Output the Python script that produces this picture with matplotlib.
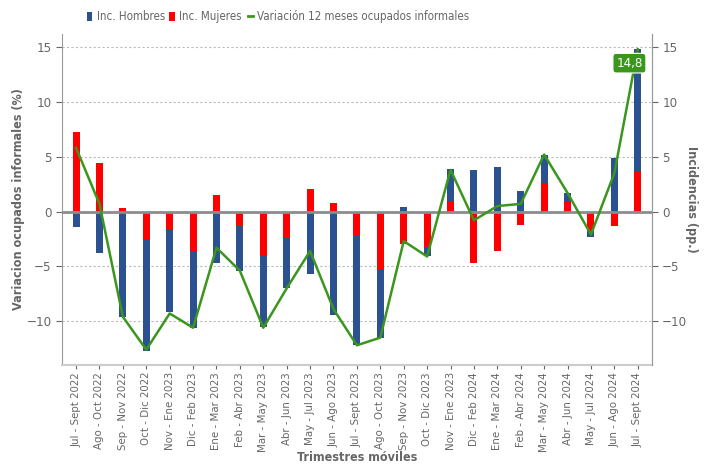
import matplotlib.pyplot as plt
import numpy as np

plt.rcParams["font.family"] = "DejaVu Sans"
plt.rcParams["font.stretch"] = "condensed"

periodos = [
    "Jul - Sept 2022", "Ago - Oct 2022", "Sep - Nov 2022", "Oct - Dic 2022",
    "Nov - Ene 2023", "Dic - Feb 2023", "Ene - Mar 2023", "Feb - Abr 2023",
    "Mar - May 2023", "Abr - Jun 2023", "May - Jul 2023", "Jun - Ago 2023",
    "Jul - Sept 2023", "Ago - Oct 2023", "Sep - Nov 2023", "Oct - Dic 2023",
    "Nov - Ene 2023", "Dic - Feb 2024", "Ene - Mar 2024", "Feb - Abr 2024",
    "Mar - May 2024", "Abr - Jun 2024", "May - Jul 2024", "Jun - Ago 2024",
    "Jul - Sept 2024",
]

inc_hombres = [-1.4, -3.8, -9.6, -10.1, -7.5, -7.0, -4.7, -4.1, -6.4, -4.6,
               -5.7, -9.4, -10.1, -6.2, 0.4, -0.9, 2.9, 3.8, 4.1, 1.9,
               2.6, 0.8, -0.5, 4.9, 11.1]
inc_mujeres = [7.3, 4.4, 0.3, -2.6, -1.7, -3.6, 1.5, -1.3, -4.1, -2.4,
               2.1, 0.8, -2.1, -5.3, -3.0, -3.2, 1.0, -4.7, -3.6, -1.2,
               2.6, 0.9, -1.8, -1.3, 3.7]
variacion = [5.8, 0.7, -9.6, -12.6, -9.3, -10.6, -3.3, -5.4, -10.6, -7.0,
             -3.6, -8.9, -12.2, -11.5, -2.7, -4.1, 3.8, -0.8, 0.5, 0.7,
             5.2, 1.7, -2.1, 3.5, 14.8]

azul = "#2b5191"
rojo = "#ff0000"
verde = "#3a961c"
gris = "#666666"

x = np.arange(len(periodos))
hom = np.array(inc_hombres)
muj = np.array(inc_mujeres)
# hombres se apila sobre mujeres cuando tienen el mismo signo
base_hom = np.where(np.sign(hom) == np.sign(muj), muj, 0.0)

fig = plt.figure(figsize=(7.08, 4.65), dpi=100)
ax = fig.add_axes([0.0876, 0.215, 0.833, 0.712])

ax.set_xlim(-0.6, len(periodos) - 0.4)
ax.set_ylim(-14, 16.2)
for v in [-10, -5, 5, 10, 15]:
    ax.axhline(v, color="#bbbbbb", lw=0.8, ls=(0, (2, 2)), zorder=0)

w = 0.3
b_muj = ax.bar(x, muj, w, color=rojo, zorder=2)
b_hom = ax.bar(x, hom, w, bottom=base_hom, color=azul, zorder=2)
ax.axhline(0, color="#8c8c8c", lw=2, zorder=3)
linea, = ax.plot(x, variacion, color=verde, lw=1.8, zorder=4)

ax.annotate("14,8", (x[-1], variacion[-1]), xytext=(-6, -10),
            textcoords="offset points", ha="center", va="center",
            color="white", fontsize=9.5, zorder=5,
            bbox=dict(boxstyle="round,pad=0.25", fc=verde, ec="white", lw=0.8))

ax.set_yticks([-10, -5, 0, 5, 10, 15])
ax.set_xticks(x)
ax.set_xticklabels(periodos, rotation=90, fontsize=8.2, color=gris)
ax.tick_params(axis="y", colors=gris, labelsize=9.5, length=4)
ax.tick_params(axis="x", colors=gris, length=3, pad=2)

ax.spines["top"].set_visible(False)
ax.spines["left"].set_color("#999999")
ax.spines["right"].set_color("#999999")
ax.spines["bottom"].set_color("#cccccc")
ax.spines["bottom"].set_linewidth(1.5)

ax2 = ax.twinx()
ax2.set_ylim(ax.get_ylim())
ax2.set_yticks([-10, -5, 0, 5, 10, 15])
ax2.tick_params(axis="y", colors=gris, labelsize=9.5, length=4)
for s in ["top", "left", "bottom"]:
    ax2.spines[s].set_visible(False)
ax2.spines["right"].set_color("#999999")

ax.set_ylabel("Variacion ocupados informales (%)", color=gris,
              fontsize=9, fontweight="bold")
ax.yaxis.set_label_coords(-0.063, 0.5)
ax2.set_ylabel("Incidencias (pp.)", color=gris, fontsize=9,
               fontweight="bold", rotation=270, va="center")
ax2.yaxis.set_label_coords(1.068, 0.5)
fig.text(0.505, 0.003, "Trimestres móviles", color=gris, fontsize=9,
         fontweight="bold", ha="center", va="bottom")

leg1 = fig.legend([b_hom, b_muj], ["Inc. Hombres", "Inc. Mujeres"],
                  loc="upper left", bbox_to_anchor=(0.108, 1.0), ncol=2,
                  frameon=False, fontsize=8.3, handlelength=0.45,
                  handleheight=0.9, handletextpad=0.4, columnspacing=0.4)
leg2 = fig.legend([linea], ["Variación 12 meses ocupados informales"],
                  loc="upper left", bbox_to_anchor=(0.335, 1.0),
                  frameon=False, fontsize=8.3, handlelength=0.45,
                  handletextpad=0.4)
leg2.get_lines()[0].set_linewidth(2)
for leg in (leg1, leg2):
    for t in leg.get_texts():
        t.set_color(gris)

fig.savefig("out.png", dpi=100)
